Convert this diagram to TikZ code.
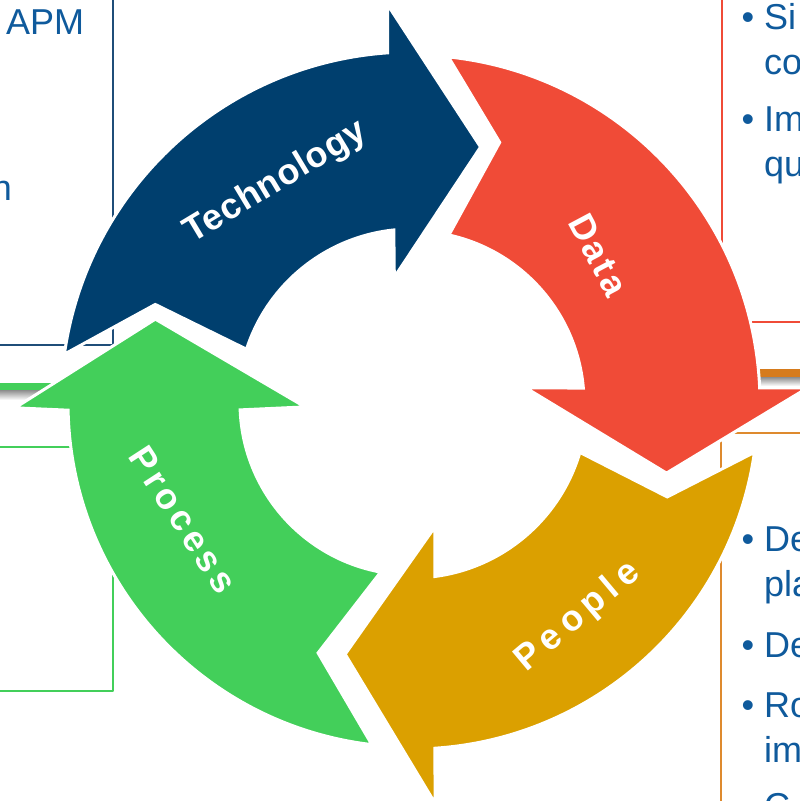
\documentclass[tikz,border=0pt]{standalone}
\usepackage{fontspec}
\setmainfont{Liberation Sans}

\definecolor{techblue}{HTML}{003F6E}
\definecolor{datared}{HTML}{F04B37}
\definecolor{peoplegold}{HTML}{DBA000}
\definecolor{processgreen}{HTML}{43CF5A}
\definecolor{textblue}{HTML}{0F5A9C}
\definecolor{boxblue}{HTML}{1F4E79}
\definecolor{barorange}{HTML}{D67B1C}
\definecolor{boxorange}{HTML}{DE8A2E}

\tikzset{
  cyclearrow/.style={fill=#1, draw=white, line width=3pt, line join=miter},
  cyclelabel/.style={text=white, inner sep=0pt,
    font={\bfseries\fontsize{36}{36}\selectfont\addfontfeature{LetterSpace=#1}}},
  cyclelabel/.default=0,
  boxtext/.style={text=textblue, inner sep=0pt, anchor=base west,
    font={\fontsize{36}{40}\selectfont}},
  bulletmark/.style={boxtext, anchor=base},
  barshadow/.style={top color=black!45, bottom color=white},
}

\begin{document}
\begin{tikzpicture}[x=1pt, y=1pt, line join=round]
\useasboundingbox (0,0) rectangle (800,801);
\clip (0,0) rectangle (800,801);

% boxes behind the cycle
\draw[boxblue, line width=2pt] (-10,456) rectangle (112.5,811);
\draw[datared, line width=1.5pt] (722,479) rectangle (810,811);
\draw[boxorange, line width=1.5pt] (721,368) rectangle (810,-10);
\draw[processgreen, line width=2pt] (-10,110) rectangle (112.5,354);

% header bars
\shade[barshadow] (-10,401) rectangle (80,411);
\fill[processgreen] (-10,411) rectangle (80,418);
\shade[barshadow] (740,415) rectangle (810,424);
\fill[barorange] (740,424) rectangle (810,432);

% box texts
\node[boxtext] (apm) at (6,766) {APM};
\node[boxtext, anchor=base east] (endn) at (12,600) {n};

\node[bulletmark] (dot1) at (748,771) {\textbullet};
\node[boxtext] (si) at (764,771) {Si};
\node[boxtext] (co) at (764,726) {co};
\node[bulletmark] (dot2) at (748,669) {\textbullet};
\node[boxtext] (im) at (764,669) {Im};
\node[boxtext] (qu) at (764,624) {qu};

\node[bulletmark] (dot3) at (748,249) {\textbullet};
\node[boxtext] (de) at (764,249) {De};
\node[boxtext] (pla) at (764,204) {pla};
\node[bulletmark] (dot4) at (748,143) {\textbullet};
\node[boxtext] (de2) at (764,143) {De};
\node[bulletmark] (dot5) at (748,83) {\textbullet};
\node[boxtext] (ro) at (764,83) {Ro};
\node[boxtext] (im2) at (764,38) {im};
\node[bulletmark] (dot6) at (748,-17) {\textbullet};
\node[boxtext] (c) at (764,-17) {C};

% the four arrows of the cycle
\begin{scope}[shift={(412,398)}]
  \path[cyclearrow=techblue] (172:351) arc[start angle=172, end angle=94, radius=351]
    -- (93.5:399) -- (75:265) -- (98:127) -- (96:174)
    arc[start angle=96, end angle=162, radius=174] -- (159:275) -- cycle;
  \path[cyclearrow=datared] (84:348) arc[start angle=84, end angle=2.5, radius=348]
    -- (2.2:396) -- (-15.4:264) -- (7.5:115) -- (5:172)
    arc[start angle=5, end angle=77.6, radius=172] -- (71.4:275) -- cycle;
  \path[cyclearrow=peoplegold] (-8.2:346) arc[start angle=-8.2, end angle=-86.2, radius=346]
    -- (-86.7:401) -- (-104.9:260) -- (-79.5:126) -- (-82.5:175)
    arc[start angle=-82.5, end angle=-16.4, radius=175] -- (-20.2:272) -- cycle;
  \path[cyclearrow=processgreen] (-96.7:344) arc[start angle=-96.7, end angle=-178.8, radius=344]
    -- (-179.3:397) -- (-198.1:270) -- (-177.9:107) -- (-177.7:172)
    arc[start angle=-177.7, end angle=-100.5, radius=172] -- (-110.6:267) -- cycle;

  \node[cyclelabel=2, rotate=31] (tech) at (121.7:259) {Technology};
  \node[cyclelabel=8, rotate=-62] (data) at (38.5:238) {Data};
  \node[cyclelabel=18, rotate=40] (people) at (-52.2:271) {People};
  \node[cyclelabel=12, rotate=-57] (process) at (207:257) {Process};
\end{scope}
\end{tikzpicture}
\end{document}
